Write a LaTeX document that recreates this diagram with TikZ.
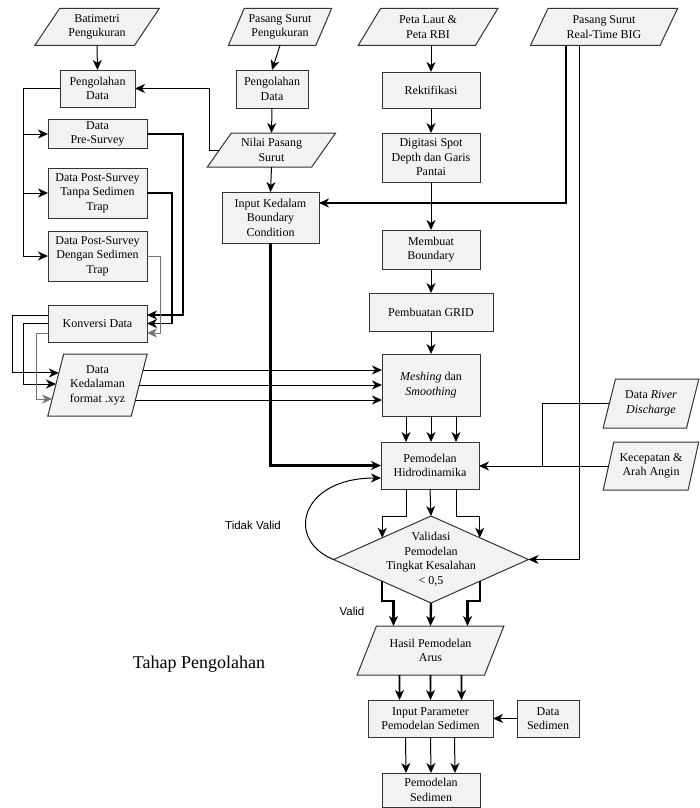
\documentclass[tikz,border=0pt]{standalone}
\usepackage{fontspec}
\setmainfont{Liberation Serif}
\setsansfont{Liberation Sans}
\usetikzlibrary{positioning,arrows.meta,shapes.geometric,calc}
\definecolor{boxgray}{HTML}{F2F2F2}
\definecolor{edgegray}{HTML}{333333}

\begin{document}
\begin{tikzpicture}[
x=1pt, y=-1pt,
font=\fontsize{12}{14.5}\selectfont,
box/.style={draw=edgegray, line width=1pt, fill=boxgray, align=center, inner sep=1.5pt, outer sep=0pt},
io/.style={box, trapezium, trapezium left angle=#1, trapezium right angle=\number\numexpr180-#1\relax, trapezium stretches=true, inner sep=1pt},
io/.default=60,
decision/.style={draw=edgegray, line width=1pt, fill=boxgray, diamond, inner sep=0pt, outer sep=0pt},
arrow/.style={-{Stealth[length=10pt,width=9pt,inset=3pt]}, line width=1pt},
midarrow/.style={arrow, line width=1.6pt},
thickarrow/.style={arrow, line width=2.4pt},
greyarrow/.style={arrow, draw=black!55},
link/.style={line width=1pt},
note/.style={font=\sffamily\fontsize{11.5}{14}\selectfont}
]
\useasboundingbox (0,0) rectangle (700,808);

% input data
\node[io=54, minimum width=125pt, minimum height=37pt] (bat) at (97,27) {Batimetri\\Pengukuran};
\node[io=62, minimum width=104pt, minimum height=37pt] (psp) at (280,27) {Pasang Surut\\Pengukuran};
\node[io=60, minimum width=140pt, minimum height=37pt] (peta) at (428,27) {Peta Laut \&\\Peta RBI};
\node[io=64, minimum width=148pt, minimum height=37pt] (big) at (604,27) {Pasang Surut\\Real-Time BIG};

% batimetri
\node[box, minimum width=75pt, minimum height=37pt] (pglbat) at (97.5,88.5) {Pengolahan\\Data};
\node[box, minimum width=99pt, minimum height=29pt] (pre) at (97.5,134) {Data\\Pre-Survey};
\node[box, minimum width=99pt, minimum height=50pt] (tanpa) at (97.5,193) {Data Post-Survey\\Tanpa Sedimen\\Trap};
\node[box, minimum width=99pt, minimum height=50pt] (dengan) at (97.5,256) {Data Post-Survey\\Dengan Sedimen\\Trap};
\node[box, minimum width=99pt, minimum height=37pt] (konv) at (97.5,323.5) {Konversi Data};
\node[io=72, minimum width=100pt, minimum height=62pt] (ked) at (97.5,385) {Data\\Kedalaman\\format .xyz};

% pasang surut
\node[box, minimum width=72pt, minimum height=38pt] (pglps) at (272,89) {Pengolahan\\Data};
\node[io=53, minimum width=129pt, minimum height=34pt] (nilai) at (271.5,150) {Nilai Pasang\\Surut};
\node[box, minimum width=97pt, minimum height=51pt] (inp) at (270.5,217.5) {Input Kedalam\\Boundary\\Condition};

% peta
\node[box, minimum width=98pt, minimum height=36pt] (rek) at (431,90) {Rektifikasi};
\node[box, minimum width=98pt, minimum height=49pt] (dig) at (431,157.5) {Digitasi Spot\\Depth dan Garis\\Pantai};
\node[box, minimum width=98pt, minimum height=39pt] (mem) at (431,249.5) {Membuat\\Boundary};
\node[box, minimum width=124pt, minimum height=38pt] (grid) at (431,312) {Pembuatan GRID};
\node[box, minimum width=98pt, minimum height=62pt] (mesh) at (431,385) {\textit{Meshing} dan\\\textit{Smoothing}};

% model
\node[box, minimum width=98pt, minimum height=47pt] (hid) at (430,465.5) {Pemodelan\\Hidrodinamika};
\node[io=71, minimum width=96pt, minimum height=49pt] (river) at (651,403.5) {Data \textit{River}\\\textit{Discharge}};
\node[io=71, minimum width=96pt, minimum height=48pt] (angin) at (651,466) {Kecepatan \&\\Arah Angin};
\node[decision, minimum width=195pt, minimum height=87pt] (dia) at (431,559.5) {};
\node[align=center] (diatext) at (dia) {Validasi\\Pemodelan\\Tingkat Kesalahan\\< 0,5};
\node[io=59, minimum width=147pt, minimum height=49pt] (hasil) at (430.5,650.5) {Hasil Pemodelan\\Arus};
\node[box, minimum width=125pt, minimum height=37pt] (ipar) at (430.5,718.5) {Input Parameter\\Pemodelan Sedimen};
\node[box, minimum width=62pt, minimum height=37pt] (dsed) at (548,718.5) {Data\\Sedimen};
\node[box, minimum width=98pt, minimum height=34pt] (psed) at (431,790) {Pemodelan\\Sedimen};

\node[note] (tidak) at (253,525) {Tidak Valid};
\node[note] (valid) at (352,611) {Valid};
\node[font=\fontsize{18}{21}\selectfont] (tahap) at (199,664) {Tahap Pengolahan};

% points on slanted edges
\coordinate (kin1) at ($(ked.bottom left corner)!0.694!(ked.top left corner)$);
\coordinate (kin2) at ($(ked.bottom left corner)!0.516!(ked.top left corner)$);
\coordinate (kin3) at ($(ked.bottom left corner)!0.274!(ked.top left corner)$);
\coordinate (kout1) at ($(ked.bottom right corner)!0.742!(ked.top right corner)$);
\coordinate (kout2) at ($(ked.bottom right corner)!0.5!(ked.top right corner)$);
\coordinate (kout3) at ($(ked.bottom right corner)!0.258!(ked.top right corner)$);
\coordinate (jn) at ($(hid.east)+(63,0)$);

% batimetri flow
\draw[arrow] (bat.south) -- (pglbat.north);
\draw[arrow] (pglbat.west) -- ++(-37,0) |- (pre.west);
\draw[arrow] (pglbat.west) -- ++(-37,0) |- (tanpa.west);
\draw[arrow] (pglbat.west) -- ++(-37,0) |- (dengan.west);
\draw[midarrow] (pre.east) -- ++(36,0) |- ($(konv.east)+(0,-8.5)$);
\draw[midarrow] (tanpa.east) -- ++(25,0) |- (konv.east);
\draw[greyarrow] (dengan.east) -- ++(13,0) |- ($(konv.east)+(0,9.5)$);
\draw[arrow] ($(konv.west)+(0,-8.5)$) -- ++(-36,0) |- (kin1);
\draw[arrow] (konv.west) -- ++(-25,0) |- (kin2);
\draw[greyarrow] ($(konv.west)+(0,9.5)$) -- ++(-12,0) |- (kin3);
\draw[arrow] (kout1) -- (kout1 -| mesh.west);
\draw[arrow] (kout2) -- (kout2 -| mesh.west);
\draw[arrow] (kout3) -- (kout3 -| mesh.west);

% pasang surut flow
\draw[arrow] (psp.south) -- (pglps.north);
\draw[arrow] (pglps.south) -- (nilai.north);
\draw[arrow] (nilai.south) -- (inp.north);
\draw[arrow] (nilai.west) -- ++(-10,0) |- (pglbat.east);
\draw[thickarrow] ($(big.south)+(-38,0)$) |- ($(inp.east)+(0,-14.5)$);
\draw[arrow] ($(big.south)+(-25,0)$) |- (dia.east);
\draw[thickarrow] (inp.south) |- (hid.west);

% peta flow
\draw[arrow] (rek.north |- peta.south) -- (rek.north);
\draw[arrow] (rek) -- (dig);
\draw[arrow] (dig) -- (mem);
\draw[arrow] (mem) -- (grid);
\draw[arrow] (grid) -- (mesh);
\foreach \dx in {-25,0,25}
  \draw[arrow] ($(mesh.south)+(\dx,0)$) -- ($(hid.north)+(\dx+1,0)$);

% hidrodinamika
\draw[arrow] (angin.west) -- (angin.west -| hid.east);
\draw[link] (river.west) -| (jn);
\draw[arrow] (hid.south) -- (dia.north);
\draw[arrow] ($(hid.south)+(-24,0)$) -- ++(0,27) -| ($(dia.west)!0.5!(dia.north)$);
\draw[arrow] ($(hid.south)+(26,0)$) -- ++(0,27) -| ($(dia.east)!0.5!(dia.north)$);
\draw[arrow] (dia.west) .. controls (285,540) and (300,478) .. ($(hid.west)+(0,12.5)$);

% validasi
\draw[thickarrow] (dia.south) -- (hasil.north);
\draw[thickarrow] ($(dia.west)!0.5!(dia.south)$) -- ++(0,20) -| ($(hasil.north)+(-37,0)$);
\draw[thickarrow] ($(dia.east)!0.5!(dia.south)$) -- ++(0,20) -| ($(hasil.north)+(37,0)$);
\foreach \dx in {-31,0,31}
  \draw[midarrow] ($(hasil.south)+(\dx,0)$) -- ($(ipar.north)+(\dx,0)$);
\draw[arrow] (dsed.west) -- (ipar.east);
\foreach \dx in {-25,0,24}
  \draw[arrow] ($(ipar.south)+(\dx,0)$) -- ($(psed.north)+(\dx,0)$);
\end{tikzpicture}
\end{document}
